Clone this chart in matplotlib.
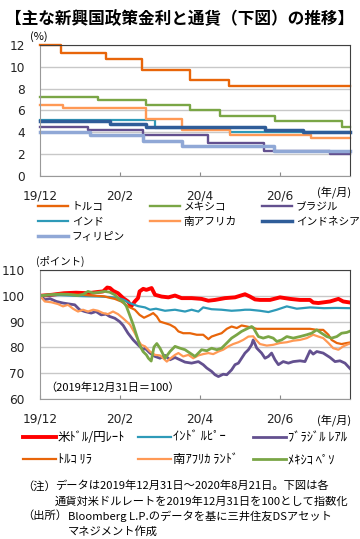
import matplotlib.pyplot as plt

plt.rcParams['font.family'] = ['Noto Sans CJK JP', 'DejaVu Sans']

W, H = 360, 539
END = 7.75  # 2019/12/31 を 0 とした月数 (右端 = 2020/8/21)

# ---- 政策金利 (変更時点の月数, 金利%) ----
turkey_m = [0, 0.53, 1.64, 2.56, 3.76, 4.73]
turkey_r = [12.0, 11.25, 10.75, 9.75, 8.75, 8.25]
mexico_m = [0, 1.45, 2.66, 3.75, 4.49, 5.87, 7.54]
mexico_r = [7.25, 7.0, 6.5, 6.0, 5.5, 5.0, 4.5]
brazil_m = [0, 1.2, 2.58, 4.2, 5.6, 7.25]
brazil_r = [4.5, 4.25, 3.75, 3.0, 2.25, 2.0]
india_m = [0, 2.88, 4.75]
india_r = [5.15, 4.4, 4.0]
safrica_m = [0, 0.58, 2.66, 3.54, 4.74, 6.78]
safrica_r = [6.5, 6.25, 5.25, 4.25, 3.75, 3.5]
indonesia_m = [0, 1.74, 2.66, 5.63, 6.58]
indonesia_r = [5.0, 4.75, 4.5, 4.25, 4.0]
phil_m = [0, 1.24, 2.58, 3.54, 5.85]
phil_r = [4.0, 3.75, 3.25, 2.75, 2.25]

# ---- 通貨 (2019/12/31 = 100) ----
usd_m = [0, 0.3, 0.6, 0.9, 1.2, 1.45, 1.58, 1.68, 1.75, 1.83, 1.95, 2.08, 2.2, 2.28, 2.37,
         2.45, 2.49, 2.58, 2.66, 2.79, 2.875, 3.04, 3.21, 3.375, 3.54, 3.79, 4.04, 4.21,
         4.375, 4.625, 4.875, 5.125, 5.25, 5.375, 5.5, 5.75, 6.0, 6.25, 6.5, 6.75, 6.83,
         6.96, 7.25, 7.46, 7.58, 7.75]
usd_v = [100, 100.4, 101, 101.2, 101.0, 101.5, 101.7, 103.2, 103.0, 101.9, 101.0, 99.1, 97.8,
         95.9, 97.8, 99.1, 101.7, 102.7, 102.3, 103.0, 100.4, 99.7, 99.4, 100.1, 99.1, 99.1,
         98.8, 98.1, 98.4, 99.1, 99.4, 100.6, 99.7, 98.6, 98.4, 98.4, 99.4, 98.8, 98.4, 98.4,
         97.4, 97.2, 97.8, 98.8, 97.8, 97.4]
inr_m = [0, 0.25, 0.5, 0.75, 1.0, 1.25, 1.5, 1.75, 1.95, 2.1, 2.24, 2.45, 2.625, 2.75, 2.9,
         3.125, 3.375, 3.625, 3.79, 3.96, 4.08, 4.29, 4.54, 4.79, 5.0, 5.125, 5.25, 5.5, 5.71,
         5.92, 6.17, 6.42, 6.75, 7.1, 7.4, 7.75]
inr_v = [100, 100.2, 100.3, 100.1, 99.9, 99.8, 99.7, 99.5, 99.2, 98.4, 97.2, 96.0, 95.5, 94.6,
         95.0, 94.2, 94.6, 93.9, 94.6, 93.9, 95.5, 94.8, 94.6, 94.2, 94.4, 94.6, 94.6, 94.2,
         93.7, 94.6, 95.9, 95.0, 95.5, 95.2, 95.3, 95.2]
brl_m = [0, 0.12, 0.25, 0.41, 0.575, 0.74, 0.87, 0.99, 1.12, 1.28, 1.4, 1.53, 1.65, 1.74, 1.87,
         1.99, 2.08, 2.2, 2.33, 2.45, 2.58, 2.625, 2.75, 2.875, 3.0, 3.125, 3.25, 3.375, 3.5,
         3.625, 3.79, 3.96, 4.08, 4.17, 4.29, 4.375, 4.46, 4.58, 4.67, 4.79, 4.875, 4.96, 5.04,
         5.125, 5.21, 5.29, 5.33, 5.42, 5.54, 5.625, 5.71, 5.79, 5.875, 5.96, 6.08, 6.21, 6.33,
         6.5, 6.625, 6.75, 6.83, 6.92, 7.08, 7.25, 7.375, 7.5, 7.625, 7.75]
brl_v = [100, 98.5, 98.9, 97.8, 97.2, 96.8, 96.5, 94.6, 93.9, 93.3, 93.9, 92.6, 92.9, 92.0, 91.3,
         90.0, 88.5, 85.5, 82.9, 81.0, 79.1, 79.7, 77.8, 76.5, 75.8, 76.9, 75.2, 76.1, 75.2,
         74.3, 73.9, 74.5, 73.3, 72.0, 70.7, 69.4, 68.7, 69.6, 69.4, 71.3, 73.3, 73.9, 75.8,
         77.8, 79.1, 81.0, 82.9, 79.7, 77.8, 75.8, 76.5, 77.8, 75.2, 73.3, 74.5, 73.9, 74.5,
         74.8, 74.5, 78.7, 77.4, 78.4, 77.8, 76.1, 74.5, 74.8, 73.9, 71.8]
try_m = [0, 0.25, 0.5, 0.75, 1.03, 1.3, 1.6, 1.75, 1.87, 2.03, 2.2, 2.37, 2.49, 2.6, 2.75, 2.83,
         2.92, 3.0, 3.125, 3.25, 3.375, 3.46, 3.58, 3.75, 3.92, 4.08, 4.21, 4.29, 4.42, 4.54,
         4.67, 4.79, 4.92, 5.04, 5.17, 5.29, 5.42, 5.75, 6.25, 6.75, 6.92, 7.08, 7.21, 7.29,
         7.42, 7.54, 7.67, 7.75]
try_v = [100, 100.4, 100.8, 100.6, 100.4, 100.1, 99.8, 99.2, 98.8, 97.8, 95.9, 94.6, 92.6, 91.5,
         92.6, 93.3, 92.0, 90.0, 89.4, 88.8, 87.7, 86.2, 85.5, 85.5, 84.9, 84.9, 83.2, 84.2,
         84.9, 85.5, 87.2, 88.1, 87.5, 88.5, 88.1, 87.7, 87.2, 87.2, 87.2, 87.2, 86.8, 86.8,
         84.9, 82.9, 81.7, 81.3, 81.7, 81.9]
zar_m = [0, 0.12, 0.28, 0.45, 0.575, 0.7, 0.825, 0.95, 1.075, 1.2, 1.33, 1.45, 1.575, 1.7,
         1.825, 1.95, 2.075, 2.16, 2.25, 2.37, 2.45, 2.53, 2.625, 2.75, 2.875, 3.0, 3.08, 3.17,
         3.25, 3.375, 3.46, 3.58, 3.71, 3.83, 3.96, 4.08, 4.21, 4.33, 4.46, 4.58, 4.71, 4.83,
         4.96, 5.08, 5.21, 5.33, 5.42, 5.5, 5.67, 5.83, 6.0, 6.17, 6.33, 6.5, 6.67, 6.83, 6.96,
         7.08, 7.21, 7.33, 7.46, 7.58, 7.71, 7.75]
zar_v = [100, 97.8, 97.5, 96.8, 95.9, 96.5, 95.0, 93.9, 94.6, 93.9, 94.6, 94.2, 93.3, 92.9,
         93.9, 92.9, 91.3, 90.1, 88.8, 85.5, 82.9, 81.0, 80.4, 78.4, 77.1, 76.9, 75.8, 74.5,
         75.6, 77.1, 77.8, 76.5, 77.1, 75.8, 76.9, 77.4, 77.8, 77.4, 78.4, 79.1, 80.4, 81.3,
         82.0, 82.9, 84.2, 84.3, 82.6, 81.3, 80.7, 81.0, 81.7, 82.0, 82.6, 82.9, 83.6, 84.9,
         84.2, 83.6, 81.7, 79.7, 79.1, 80.4, 81.3, 81.5]
mxn_m = [0, 0.2, 0.45, 0.7, 0.95, 1.08, 1.2, 1.33, 1.49, 1.62, 1.74, 1.87, 1.99, 2.08, 2.16,
         2.24, 2.33, 2.41, 2.49, 2.575, 2.66, 2.71, 2.78, 2.85, 2.92, 3.0, 3.125, 3.25, 3.375,
         3.5, 3.625, 3.75, 3.875, 3.96, 4.04, 4.17, 4.29, 4.42, 4.54, 4.67, 4.79, 4.92, 5.04,
         5.17, 5.29, 5.33, 5.46, 5.58, 5.71, 5.83, 5.92, 6.04, 6.17, 6.33, 6.5, 6.67, 6.79,
         6.92, 7.04, 7.17, 7.29, 7.42, 7.54, 7.67, 7.75]
mxn_v = [100, 100.4, 100.6, 100.6, 100.1, 100.6, 101.7, 101.1, 101.4, 101.7, 101.4, 100.4, 98.4,
         97.8, 95.9, 92.6, 88.8, 84.9, 81.0, 78.4, 77.1, 75.8, 74.7, 80.2, 81.5, 79.7, 75.8,
         78.4, 80.4, 79.7, 79.1, 77.8, 76.5, 77.8, 79.1, 78.7, 79.7, 79.1, 79.7, 81.7, 83.6,
         84.9, 86.2, 87.2, 88.1, 87.7, 84.2, 83.6, 84.2, 83.6, 82.3, 82.9, 84.2, 83.6, 84.2,
         84.9, 85.5, 86.8, 85.5, 84.2, 83.6, 84.2, 85.5, 85.8, 86.3]

xtick_pos = [0, 2, 4, 6]
xtick_lab = ['19/12', '20/2', '20/4', '20/6']


def fx(px):
    return px / W


def fy(py):
    return 1 - py / H


def style_axes(ax, ylim, yticks):
    ax.set_xlim(0, END)
    ax.set_ylim(*ylim)
    ax.set_yticks(yticks)
    ax.set_xticks(xtick_pos)
    ax.set_xticklabels(xtick_lab)
    ax.yaxis.grid(True, color='#c8c8c8', lw=1)
    ax.set_axisbelow(True)
    ax.tick_params(axis='y', length=0, pad=11, labelsize=8.7, labelcolor='#222222')
    ax.tick_params(axis='x', direction='in', length=3, color='#888888', pad=10,
                   labelsize=8.7, labelcolor='#222222')
    for lab in ax.get_xticklabels() + ax.get_yticklabels():
        lab.set_family('DejaVu Sans')
    for s in ['left', 'bottom']:
        ax.spines[s].set_color('#999999')
    for s in ['top', 'right']:
        ax.spines[s].set_color('#404040')


fig = plt.figure(figsize=(W / 100, H / 100), dpi=100)
fig.text(0.5, fy(19), '【主な新興国政策金利と通貨（下図）の推移】', ha='center', va='center',
         fontsize=12, fontweight='bold')

# ---------------- 上図: 政策金利 ----------------
ax1 = fig.add_axes([fx(40), fy(176), fx(310), 131 / H])
rates = [
    ('トルコ', turkey_m, turkey_r, '#e8650a', 1.7),
    ('メキシコ', mexico_m, mexico_r, '#7aa646', 1.7),
    ('ブラジル', brazil_m, brazil_r, '#63508f', 1.7),
    ('インド', india_m, india_r, '#2e9ab8', 1.6),
    ('南アフリカ', safrica_m, safrica_r, '#ff9955', 1.7),
    ('インドネシア', indonesia_m, indonesia_r, '#2f5d99', 2.5),
    ('フィリピン', phil_m, phil_r, '#90a8d6', 2.5),
]
h1 = {}
for name, m, r, c, lw in rates:
    ln, = ax1.step(m + [END], r + [r[-1]], where='post', color=c, lw=lw, clip_on=False)
    h1[name] = ln
style_axes(ax1, (0, 12), range(0, 13, 2))
fig.text(fx(30), fy(37), '(%)', ha='left', va='center', fontsize=8)
fig.text(fx(334), fy(192), '(年/月)', ha='center', va='center', fontsize=8)

cols1 = [['トルコ', 'インド', 'フィリピン'], ['メキシコ', '南アフリカ'], ['ブラジル', 'インドネシア']]
for i, col in enumerate(cols1):
    fig.legend([h1[n] for n in col], col, loc='upper left',
               bbox_to_anchor=(fx(38 + 112 * i), fy(202)), frameon=False, fontsize=7.7,
               handlelength=2.8, handletextpad=0.35, labelspacing=0.45,
               borderpad=0, borderaxespad=0)

# ---------------- 下図: 通貨 ----------------
ax2 = fig.add_axes([fx(40), fy(399), fx(310), 129 / H])
fx_series = [
    ('米ﾄﾞﾙ/円ﾚｰﾄ', usd_m, usd_v, '#ff0000', 2.8),
    ('ｲﾝﾄﾞ ﾙﾋﾟｰ', inr_m, inr_v, '#2e9ab8', 1.6),
    ('ﾌﾞﾗｼﾞﾙ ﾚｱﾙ', brl_m, brl_v, '#63508f', 2.0),
    ('ﾄﾙｺ ﾘﾗ', try_m, try_v, '#e8650a', 1.6),
    ('南ｱﾌﾘｶ ﾗﾝﾄﾞ', zar_m, zar_v, '#ff9955', 1.6),
    ('ﾒｷｼｺ ﾍﾟｿ', mxn_m, mxn_v, '#7aa646', 2.0),
]
h2 = {}
for name, m, v, c, lw in fx_series:
    ln, = ax2.plot(m, v, color=c, lw=lw)
    h2[name] = ln
style_axes(ax2, (60, 110), range(60, 111, 10))
ax2.text(0.016, 0.085, '（2019年12月31日＝100）', transform=ax2.transAxes, ha='left',
         va='center', fontsize=8)
fig.text(fx(36), fy(261), '(ポイント)', ha='left', va='center', fontsize=7.5)
fig.text(fx(334), fy(420), '(年/月)', ha='center', va='center', fontsize=8)

cols2 = [['米ﾄﾞﾙ/円ﾚｰﾄ', 'ﾄﾙｺ ﾘﾗ'], ['ｲﾝﾄﾞ ﾙﾋﾟｰ', '南ｱﾌﾘｶ ﾗﾝﾄﾞ'], ['ﾌﾞﾗｼﾞﾙ ﾚｱﾙ', 'ﾒｷｼｺ ﾍﾟｿ']]
for i, col in enumerate(cols2):
    fig.legend([h2[n] for n in col], col, loc='upper left',
               bbox_to_anchor=(fx(23 + 115 * i), fy(431)), frameon=False, fontsize=9,
               handlelength=2.6, handletextpad=0.2, labelspacing=0.75,
               borderpad=0, borderaxespad=0)

# ---------------- 注記 ----------------
notes = [
    (22, 486, '（注）'),
    (55, 486, 'データは2019年12月31日～2020年8月21日。下図は各'),
    (55, 502, '通貨対米ドルレートを2019年12月31日を100として指数化'),
    (22, 516, '（出所）'),
    (68, 516, 'Bloomberg L.P.のデータを基に三井住友DSアセット'),
    (68, 531, 'マネジメント作成'),
]
for x, y, t in notes:
    fig.text(fx(x), fy(y), t, ha='left', va='center', fontsize=8.1)

fig.savefig('out.png', dpi=100)
